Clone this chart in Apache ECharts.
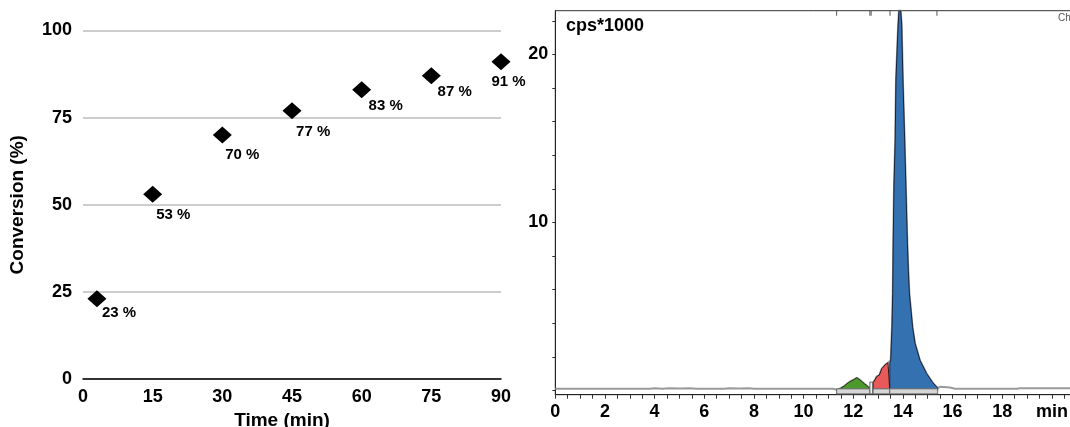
<!DOCTYPE html>
<html><head><meta charset="utf-8">
<script src="https://cdn.jsdelivr.net/npm/echarts@6/dist/echarts.min.js"></script>
<style>html,body{margin:0;padding:0;background:#fff}#c{width:1070px;height:427px}</style>
</head><body><div id="c"></div>
<script>
// ---- Left chart: conversion vs time ----
const timeMin = [3, 15, 30, 45, 60, 75, 90];
const conversion = [23, 53, 70, 77, 83, 87, 91];

// ---- Right chart: chromatogram (min, cps*1000) ----
const traceBefore = [[0,0.1],[2,0.1],[3.8,0.1],[4.0,0.13],[4.3,0.11],[4.6,0.13],[5.0,0.12],[5.4,0.13],[5.7,0.1],[6.8,0.1],[7.0,0.13],[7.4,0.12],[7.8,0.13],[8.0,0.1],[11.2,0.1]];
const peakGreen = [[11.33,0.05],[11.5,0.14],[11.65,0.28],[11.8,0.46],[11.92,0.57],[12.02,0.64],[12.14,0.76],[12.25,0.65],[12.34,0.54],[12.45,0.4],[12.54,0.3],[12.67,0.12]];
const traceGap = [[12.72,0.25]];
const peakRed = [[12.8,0.48],[12.87,0.62],[12.94,0.82],[13.05,0.92],[13.12,0.95],[13.15,1.3],[13.2,1.38],[13.3,1.55],[13.4,1.65],[13.47,1.62]];
const peakBlue = [[13.47,1.62],[13.51,1.8],[13.56,3.76],[13.59,5.78],[13.61,8.76],[13.64,12.1],[13.69,14.9],[13.72,18.47],[13.8,21.5],[13.87,23.4],[13.95,21.8],[14.0,18.47],[14.07,14.9],[14.12,12.1],[14.18,8.76],[14.22,7.1],[14.26,5.78],[14.39,3.76],[14.49,2.8],[14.69,1.79],[14.96,1.0],[15.21,0.45],[15.4,0.15]];
const traceAfter = [[15.5,0.22],[15.9,0.18],[16.1,0.1],[18.6,0.1],[18.7,0.13],[20.8,0.13]];
const integrationWindows = [[11.33,12.67,0.1],[12.67,12.78,0.5],[12.8,13.47,0.1],[13.47,15.4,0.1]];
const peakMarks = [11.33, 12.67, 12.72, 13.48, 13.86, 15.37];
const intensityTicks = [0,2,4,6,8,10,12,14,16,18,20,22];
const intensityLabels = [10, 20];

const FONT = "Arial, 'Liberation Sans', sans-serif";
const labelNudges = [[14.5,23],[13,29.5],[12.3,28.8],[13.6,29.5],[16.4,24.5],[15.7,24.2],[-0.1,28.5]];

function peakWithEdges(arr){ return [[arr[0][0],0]].concat(arr, [[arr[arr.length-1][0],0]]); }
function peakSeries(arr, fill, stroke){
  return {type:'line', xAxisIndex:1, yAxisIndex:1, data: peakWithEdges(arr), symbol:'none',
    lineStyle:{color:stroke, width:1}, areaStyle:{color:fill, opacity:1}, z:3, silent:true};
}

const fullTrace = [].concat(traceBefore, peakGreen, traceGap, peakRed, peakBlue.slice(1), traceAfter);

const chart = echarts.init(document.getElementById('c'), null, {renderer:'canvas'});
chart.setOption({
  animation:false,
  backgroundColor:'#fff',
  textStyle:{fontFamily:FONT},
  grid:[
    {left:83, top:30.5, width:418, height:348.5, outerBoundsMode:'none', containLabel:false},
    {left:555.3, top:10.7, width:516.7, height:384, show:true, borderColor:'#333', borderWidth:1, outerBoundsMode:'none', containLabel:false}
  ],
  xAxis:[
    {gridIndex:0, type:'value', min:0, max:90, interval:15,
     axisLine:{show:true, lineStyle:{color:'#000', width:1.5}}, axisTick:{show:false}, splitLine:{show:false},
     axisLabel:{color:'#000', fontWeight:'bold', fontSize:18, margin:9, fontFamily:FONT},
     name:'Time (min)', nameLocation:'middle', nameGap:28,
     nameTextStyle:{color:'#000', fontWeight:'bold', fontSize:19, fontFamily:FONT, padding:[0,20,0,0]}},
    {gridIndex:1, type:'value', min:0, max:20.81, interval:2,
     axisLine:{show:true, onZero:false, lineStyle:{color:'#222', width:1}},
     axisTick:{show:true, length:4, lineStyle:{color:'#333'}},
     minorTick:{show:true, splitNumber:4, length:4, lineStyle:{color:'#333'}},
     splitLine:{show:false},
     axisLabel:{color:'#000', fontWeight:'bold', fontSize:18, margin:8, fontFamily:FONT,
       formatter:v => v === 20 ? 'min' : String(v)}}
  ],
  yAxis:[
    {gridIndex:0, type:'value', min:0, max:100, interval:25,
     axisLine:{show:false}, axisTick:{show:false},
     splitLine:{show:true, lineStyle:{color:'#bdbdbd', width:1.5}},
     axisLabel:{color:'#000', fontWeight:'bold', fontSize:18, margin:11, fontFamily:FONT},
     name:'Conversion (%)', nameLocation:'middle', nameGap:56, nameRotate:90,
     nameTextStyle:{color:'#000', fontWeight:'bold', fontSize:19, fontFamily:FONT}},
    {gridIndex:1, type:'value', min:-0.25, max:22.6,
     axisLine:{show:true, onZero:false, lineStyle:{color:'#222', width:1}},
     axisTick:{show:true, length:3, customValues:intensityTicks, lineStyle:{color:'#333'}},
     splitLine:{show:false},
     axisLabel:{color:'#000', fontWeight:'bold', fontSize:18, margin:7, fontFamily:FONT, customValues:intensityLabels}}
  ],
  graphic:[
    {type:'text', left:566, top:17, style:{text:'cps*1000', font:"bold 18px " + FONT, fill:'#000'}},
    {type:'text', left:1058, top:13, style:{text:'Ch1', font:"10px " + FONT, fill:'#555'}}
  ],
  series:[
    {type:'scatter', xAxisIndex:0, yAxisIndex:0, symbol:'diamond', symbolSize:[19,17],
     itemStyle:{color:'#000', opacity:1},
     data: timeMin.map((t,i) => ({value:[t, conversion[i]],
        label:{show:true, position:labelNudges[i], align:'left', verticalAlign:'middle'}})),
     label:{show:true, formatter:p => p.value[1] + ' %', color:'#000', opacity:1, fontWeight:'bold', fontSize:15, fontFamily:FONT},
     z:5},
    {type:'line', xAxisIndex:1, yAxisIndex:1, data:fullTrace, symbol:'none',
     lineStyle:{color:'#9a9a9a', width:2}, z:2, silent:true},
    peakSeries(peakGreen, '#4b9a2b', '#1e2e12'),
    peakSeries(peakRed, '#e85a5a', '#2a1515'),
    peakSeries(peakBlue, '#3471b0', '#16233a'),
    {type:'custom', xAxisIndex:1, yAxisIndex:1, data:integrationWindows, z:4, silent:true,
     encode:{x:[0,1], y:2},
     renderItem:(params, api) => {
       const p1 = api.coord([api.value(0), api.value(2)]);
       const p2 = api.coord([api.value(1), -0.2]);
       return {type:'rect', shape:{x:p1[0], y:p1[1], width:p2[0]-p1[0], height:p2[1]-p1[1]},
               style:{fill: api.value(2) > 0.2 ? '#f2f2f2' : '#d6d6d6', stroke:'#666', lineWidth:1}};
     }},
    {type:'scatter', xAxisIndex:1, yAxisIndex:1, data:peakMarks.map(m => [m, 22.6]),
     symbol:'rect', symbolSize:[1,5], symbolOffset:[0,2.5], itemStyle:{color:'#555', opacity:1}, clip:false, silent:true, z:6}
  ]
});
</script></body></html>
